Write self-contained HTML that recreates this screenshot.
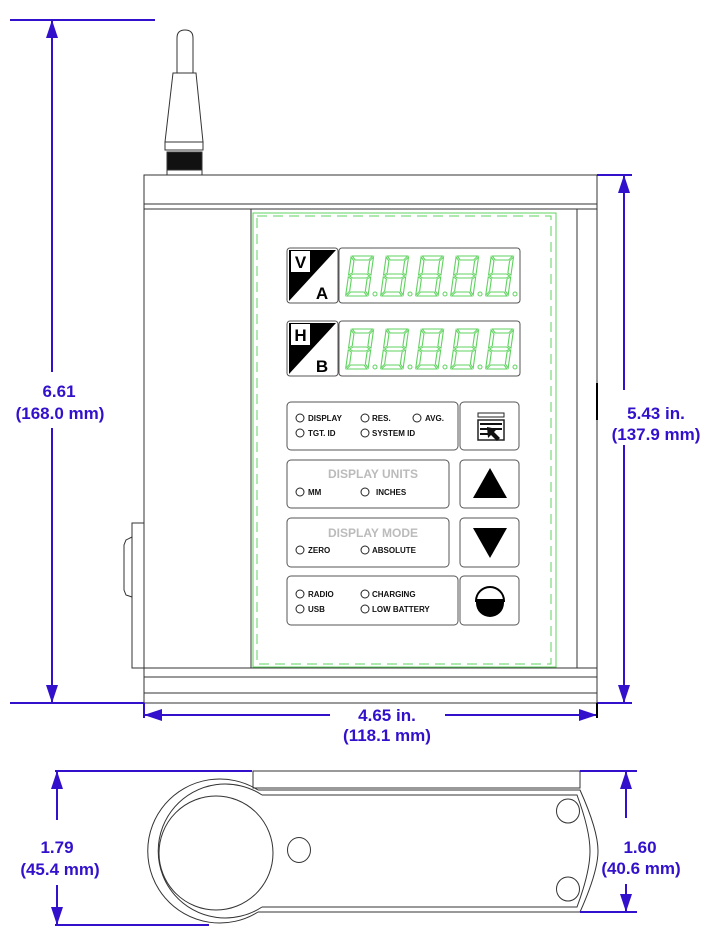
<!DOCTYPE html>
<html><head><meta charset="utf-8"><style>
html,body{margin:0;padding:0;background:#fff}
svg{display:block}
.d{font-family:"Liberation Sans",sans-serif;font-weight:bold;fill:#3311cc;font-size:17px;text-anchor:middle}
.l{font-family:"Liberation Sans",sans-serif;font-weight:bold;fill:#111;font-size:8px}
.g{font-family:"Liberation Sans",sans-serif;font-weight:bold;fill:#bbb;font-size:12px;text-anchor:middle}
</style></head><body>
<svg width="712" height="943" viewBox="0 0 712 943" xmlns="http://www.w3.org/2000/svg">
<defs>
<g id="dg" fill="none" stroke="#5fd35f" stroke-width="1">
<polygon points="3,0 21,0 18,4 6,4"/>
<polygon points="22,1 22,19 19,17 19,5"/>
<polygon points="22,21 22,39 19,35 19,23"/>
<polygon points="3,40 21,40 18,36 6,36"/>
<polygon points="2,21 2,39 5,35 5,23"/>
<polygon points="2,1 2,19 5,17 5,5"/>
<polygon points="3,20 6,18 18,18 21,20 18,22 6,22"/>
</g>
<g id="row"><g transform="skewX(-8)">
<use href="#dg" transform="translate(0,0) scale(1.12,1)"/><use href="#dg" transform="translate(35,0) scale(1.12,1)"/><use href="#dg" transform="translate(70,0) scale(1.12,1)"/><use href="#dg" transform="translate(105,0) scale(1.12,1)"/><use href="#dg" transform="translate(140,0) scale(1.12,1)"/></g>
<g fill="none" stroke="#5fd35f"><circle cx="26" cy="38" r="2"/><circle cx="61" cy="38" r="2"/><circle cx="96" cy="38" r="2"/><circle cx="131" cy="38" r="2"/><circle cx="166" cy="38" r="2"/></g></g>
</defs>
<g stroke="#333" stroke-width="1" fill="none">
<path d="M177,73 L177,38 Q177,30 185,30 Q193,30 193,38 L193,73 L196,73 L203,142 L165,142 L173,73 Z" fill="#fff"/>
<line x1="173" y1="73" x2="196" y2="73"/>
<rect x="165" y="142" width="38" height="8" fill="#fff"/>
<rect x="167" y="152" width="35" height="18" fill="#111"/>
<rect x="167" y="170" width="35" height="5" fill="#fff"/>
<rect x="144" y="175" width="453" height="528"/>
<line x1="144" y1="204" x2="597" y2="204"/>
<line x1="144" y1="209" x2="597" y2="209"/>
<line x1="144" y1="668" x2="597" y2="668"/>
<line x1="144" y1="677" x2="597" y2="677"/>
<line x1="144" y1="693" x2="597" y2="693"/>
<line x1="251" y1="209" x2="251" y2="668"/>
<line x1="577" y1="209" x2="577" y2="668"/>
<path d="M144,523 L132,523 L132,668 L144,668"/>
<path d="M132,537 L126,540 L124,545 L124,590 L126,595 L132,597"/>
<line x1="597" y1="383" x2="597" y2="420" stroke="#000" stroke-width="2"/>
</g>
<rect x="253" y="213" width="303" height="454" fill="none" stroke="#5fd35f" stroke-width="1"/>
<rect x="257" y="216" width="294" height="448" fill="none" stroke="#5fd35f" stroke-width="1" stroke-dasharray="10,6"/>
<g stroke="#555" fill="none">
<rect x="287" y="248" width="51" height="55" rx="3"/>
<rect x="339" y="248" width="181" height="55" rx="3"/>
<rect x="287" y="321" width="51" height="55" rx="3"/>
<rect x="339" y="321" width="181" height="55" rx="3"/>
</g>
<polygon points="289,250 336,250 289,301" fill="#000"/>
<rect x="291" y="251" width="19" height="21" fill="#fff"/>
<text x="300.5" y="268" font-family="Liberation Sans" font-weight="bold" font-size="17" text-anchor="middle">V</text>
<text x="322" y="299" font-family="Liberation Sans" font-weight="bold" font-size="17" text-anchor="middle">A</text>
<polygon points="289,323 336,323 289,374" fill="#000"/>
<rect x="291" y="324" width="19" height="21" fill="#fff"/>
<text x="300.5" y="341" font-family="Liberation Sans" font-weight="bold" font-size="17" text-anchor="middle">H</text>
<text x="322" y="372" font-family="Liberation Sans" font-weight="bold" font-size="17" text-anchor="middle">B</text>
<use href="#row" x="349" y="256"/>
<use href="#row" x="349" y="329"/>
<g stroke="#555" fill="none">
<rect x="287" y="402" width="171" height="48" rx="4"/>
<rect x="460" y="402" width="59" height="48" rx="4"/>
<rect x="287" y="460" width="162" height="48" rx="4"/>
<rect x="460" y="460" width="59" height="48" rx="4"/>
<rect x="287" y="518" width="162" height="49" rx="4"/>
<rect x="460" y="518" width="59" height="49" rx="4"/>
<rect x="287" y="576" width="171" height="49" rx="4"/>
<rect x="460" y="576" width="59" height="49" rx="4"/>
<g stroke="#222">
<circle cx="300" cy="418" r="4"/><circle cx="365" cy="418" r="4"/><circle cx="417" cy="418" r="4"/>
<circle cx="300" cy="433" r="4"/><circle cx="365" cy="433" r="4"/>
<circle cx="300" cy="492" r="4"/><circle cx="365" cy="492" r="4"/>
<circle cx="300" cy="550" r="4"/><circle cx="365" cy="550" r="4"/>
<circle cx="300" cy="594" r="4"/><circle cx="365" cy="594" r="4"/>
<circle cx="300" cy="609" r="4"/><circle cx="365" cy="609" r="4"/>
</g></g>
<text class="l" x="308" y="421">DISPLAY</text><text class="l" x="372" y="421">RES.</text><text class="l" x="425" y="421">AVG.</text>
<text class="l" x="308" y="436">TGT. ID</text><text class="l" x="372" y="436">SYSTEM ID</text>
<text class="g" x="373" y="478">DISPLAY UNITS</text>
<text class="l" x="308" y="495">MM</text><text class="l" x="376" y="495">INCHES</text>
<text class="g" x="373" y="537">DISPLAY MODE</text>
<text class="l" x="308" y="553">ZERO</text><text class="l" x="372" y="553">ABSOLUTE</text>
<text class="l" x="308" y="597">RADIO</text><text class="l" x="372" y="597">CHARGING</text>
<text class="l" x="308" y="612">USB</text><text class="l" x="372" y="612">LOW BATTERY</text>
<rect x="478" y="413" width="26" height="4" fill="none" stroke="#222"/>
<rect x="478" y="420" width="26" height="20" fill="none" stroke="#222" stroke-width="1.5"/>
<g stroke="#111" stroke-width="2"><line x1="480" y1="424" x2="502" y2="424"/><line x1="480" y1="429" x2="502" y2="429"/><line x1="480" y1="434" x2="490" y2="434"/></g>
<path d="M487,427 L497,429 L494,432 L500,438 L497,441 L491,435 L488,438 Z" fill="#111"/>
<polygon points="490,468 473,498 507,498" fill="#000"/>
<polygon points="473,528 507,528 490,558" fill="#000"/>
<path d="M476,601 A14,14 0 0 1 504,601 Z" fill="#fff" stroke="#000" stroke-width="2"/>
<rect x="476" y="599" width="28" height="4" fill="#000"/>
<path d="M476,603 A14,14 0 0 0 504,603 Z" fill="#000"/>
<g stroke="#3311cc" stroke-width="2" fill="#3311cc">
<line x1="10" y1="20" x2="155" y2="20"/>
<line x1="10" y1="703" x2="144" y2="703"/>
<line x1="52" y1="20" x2="52" y2="372"/><line x1="52" y1="428" x2="52" y2="703"/>
<polygon points="52,20 46,38 58,38" stroke="none"/><polygon points="52,703 46,685 58,685" stroke="none"/>
<line x1="597" y1="175" x2="632" y2="175"/>
<line x1="597" y1="703" x2="632" y2="703"/>
<line x1="624" y1="175" x2="624" y2="390"/><line x1="624" y1="445" x2="624" y2="703"/>
<polygon points="624,175 618,193 630,193" stroke="none"/><polygon points="624,703 618,685 630,685" stroke="none"/>
<line x1="144" y1="715" x2="330" y2="715"/><line x1="445" y1="715" x2="597" y2="715"/>
<polygon points="144,715 162,709 162,721" stroke="none"/><polygon points="597,715 579,709 579,721" stroke="none"/>
<line x1="144" y1="703" x2="144" y2="718"/><line x1="597" y1="703" x2="597" y2="718" stroke="#000"/>
</g>
<text class="d" x="59" y="397">6.61</text><text class="d" x="60" y="419">(168.0 mm)</text>
<text class="d" x="656" y="419">5.43 in.</text><text class="d" x="656" y="440">(137.9 mm)</text>
<text class="d" x="387" y="721">4.65 in.</text><text class="d" x="387" y="741">(118.1 mm)</text>
<g stroke="#333" stroke-width="1" fill="none">
<rect x="253" y="771" width="327" height="17"/>
<path d="M258,790 L580,790 Q598,830 598,851 Q598,872 580,912 L258,912"/>
<path d="M262,795 L577,795 Q590,830 590,851 Q590,872 577,907 L262,907"/>
<path d="M258,790 A72,72 0 1 0 258,912"/>
<path d="M262,795 A67,67 0 1 0 262,907"/>
<circle cx="216" cy="853" r="57"/>
<ellipse cx="299" cy="850" rx="11.5" ry="12.5"/>
<ellipse cx="568" cy="811" rx="11.5" ry="12"/>
<ellipse cx="568" cy="889" rx="11.5" ry="12"/>
</g>
<g stroke="#3311cc" stroke-width="2" fill="#3311cc">
<line x1="55" y1="771" x2="252" y2="771"/>
<line x1="55" y1="925" x2="209" y2="925"/>
<line x1="57" y1="771" x2="57" y2="820"/><line x1="57" y1="885" x2="57" y2="925"/>
<polygon points="57,771 51,789 63,789" stroke="none"/><polygon points="57,925 51,907 63,907" stroke="none"/>
<line x1="580" y1="771" x2="637" y2="771"/>
<line x1="580" y1="912" x2="637" y2="912"/>
<line x1="626" y1="771" x2="626" y2="818"/><line x1="626" y1="884" x2="626" y2="912"/>
<polygon points="626,771 620,789 632,789" stroke="none"/><polygon points="626,912 620,894 632,894" stroke="none"/>
</g>
<text class="d" x="57" y="853">1.79</text><text class="d" x="60" y="875">(45.4 mm)</text>
<text class="d" x="640" y="853">1.60</text><text class="d" x="641" y="874">(40.6 mm)</text>
</svg>
</body></html>
